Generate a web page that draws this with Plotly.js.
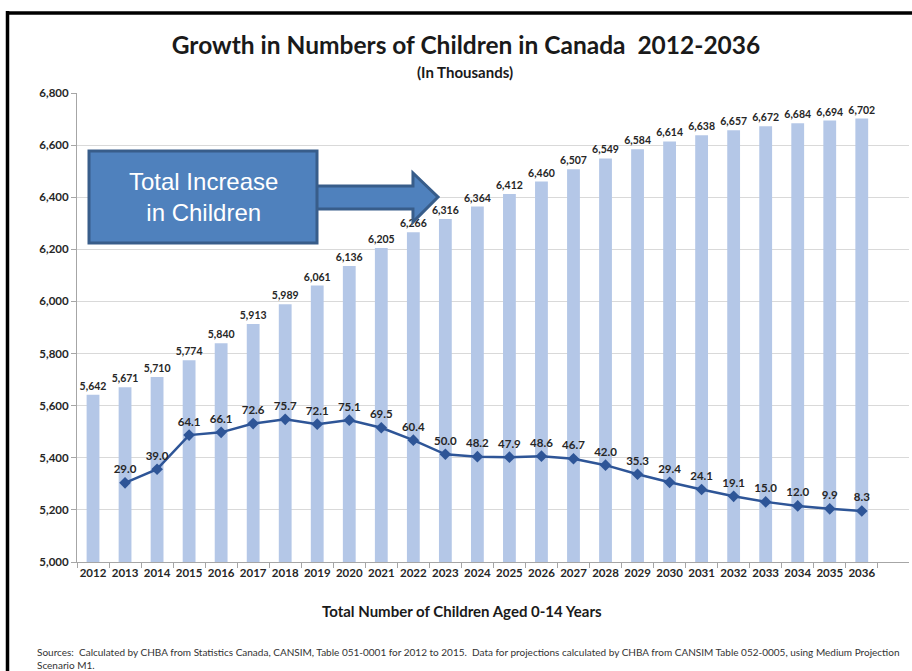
<!DOCTYPE html>
<html>
<head>
<meta charset="utf-8">
<script src="https://cdn.plot.ly/plotly-3.0.1.min.js"></script>
<style>html,body{margin:0;padding:0;background:#fff;}#chart{width:912px;height:671px;}</style>
</head>
<body>
<div id="chart"></div>
<script>
const years = ['2012','2013','2014','2015','2016','2017','2018','2019','2020','2021','2022','2023','2024','2025','2026','2027','2028','2029','2030','2031','2032','2033','2034','2035','2036'];
const totalChildren = [5642,5671,5710,5774,5840,5913,5989,6061,6136,6205,6266,6316,6364,6412,6460,6507,6549,6584,6614,6638,6657,6672,6684,6694,6702];
const increaseYears = ['2013','2014','2015','2016','2017','2018','2019','2020','2021','2022','2023','2024','2025','2026','2027','2028','2029','2030','2031','2032','2033','2034','2035','2036'];
const annualIncrease = [29.0,39.0,64.1,66.1,72.6,75.7,72.1,75.1,69.5,60.4,50.0,48.2,47.9,48.6,46.7,42.0,35.3,29.4,24.1,19.1,15.0,12.0,9.9,8.3];

const W = 912, H = 671;
const L = 77, R = 3, T = 93, B = 109;
const pw = W - L - R, ph = H - T - B;
const px = x => (x - L) / pw;
const py = y => (H - B - y) / ph;

const fontC = 'Lato, "Open Sans", sans-serif';

const barTrace = {
  type: 'bar', x: years, y: totalChildren,
  marker: {color: '#B4C7E7'},
  texttemplate: '%{y:,}', textposition: 'outside', cliponaxis: false, constraintext: 'none',
  textfont: {family: fontC, size: 10.5, color: '#262626', weight: 'bold'},
  hoverinfo: 'x+y', showlegend: false
};
const lineTrace = {
  type: 'scatter', mode: 'lines+markers+text', x: increaseYears, y: annualIncrease,
  yaxis: 'y2',
  line: {color: '#2E5597', width: 2.5},
  marker: {symbol: 'diamond', size: 9, color: '#2E5597'},
  text: annualIncrease.map(v => v.toFixed(1)), textposition: 'top center',
  textfont: {family: fontC, size: 11.5, color: '#262626', weight: 'bold'},
  cliponaxis: false, showlegend: false
};

const arrowPath = [
  [316, 186], [413, 186], [413, 173], [438, 197], [413, 222], [413, 209], [316, 209]
].map((p, i) => (i === 0 ? 'M' : 'L') + px(p[0]).toFixed(4) + ',' + py(p[1]).toFixed(4)).join(' ') + ' Z';

const layout = {
  width: W, height: H,
  margin: {l: L, r: R, t: T, b: B},
  paper_bgcolor: '#ffffff', plot_bgcolor: '#ffffff',
  bargap: 0.6,
  title: {
    text: '<b>Growth in Numbers of Children in Canada  2012-2036</b>',
    font: {family: fontC, size: 24.5, color: '#1a1a1a'},
    x: 466 / W, xanchor: 'center', y: 1 - 45/H, yanchor: 'middle'
  },
  xaxis: {
    type: 'category', showgrid: false, tickangle: 0,
    linecolor: '#A6A6A6', linewidth: 1, showline: true,
    ticks: 'outside', tickson: 'boundaries', ticklen: 5, tickcolor: '#A6A6A6',
    tickfont: {family: fontC, size: 11.5, color: '#262626', weight: 'bold'}
  },
  yaxis: {
    range: [5000, 6800], dtick: 200, tickformat: ',',
    gridcolor: '#D9D9D9', gridwidth: 1,
    showline: true, linecolor: '#A6A6A6', ticks: 'outside', ticklen: 5, tickcolor: '#A6A6A6',
    tickfont: {family: fontC, size: 11.5, color: '#262626', weight: 'bold'},
    zeroline: false
  },
  yaxis2: {overlaying: 'y', range: [-29.2, 315.6], visible: false, showgrid: false},
  shapes: [
    {type: 'line', xref: 'paper', yref: 'paper', x0: px(7), x1: px(912), y0: py(13), y1: py(13), line: {color: '#000', width: 3.5}},
    {type: 'line', xref: 'paper', yref: 'paper', x0: px(7.5), x1: px(7.5), y0: py(11), y1: py(671), line: {color: '#000', width: 3.5}},
    {type: 'path', xref: 'paper', yref: 'paper', path: arrowPath, fillcolor: '#4F81BD', line: {color: '#385D8A', width: 3}, layer: 'above'},
    {type: 'rect', xref: 'paper', yref: 'paper', x0: px(89), x1: px(317), y0: py(151), y1: py(243), fillcolor: '#4F81BD', line: {color: '#385D8A', width: 3}, layer: 'above'}
  ],
  annotations: [
    {xref: 'paper', yref: 'paper', x: px(465), y: py(72), text: '<b>(In Thousands)</b>', showarrow: false,
     font: {family: fontC, size: 15, color: '#1a1a1a'}, xanchor: 'center', yanchor: 'middle'},
    {xref: 'paper', yref: 'paper', x: px(462), y: py(611), text: '<b>Total Number of Children Aged 0-14 Years</b>', showarrow: false,
     font: {family: fontC, size: 15, color: '#1a1a1a'}, xanchor: 'center', yanchor: 'middle'},
    {xref: 'paper', yref: 'paper', x: px(203), y: py(197), text: 'Total Increase<br>in Children', showarrow: false,
     font: {family: '"Liberation Sans", Arial, sans-serif', size: 24, color: '#ffffff'}, xanchor: 'center', yanchor: 'middle'},
    {xref: 'paper', yref: 'paper', x: px(35), y: py(644), text: 'Sources:  Calculated by CHBA from Statistics Canada, CANSIM, Table 051-0001 for 2012 to 2015.  Data for projections calculated by CHBA from CANSIM Table 052-0005, using Medium Projection<br>Scenario M1.',
     showarrow: false, align: 'left', xanchor: 'left', yanchor: 'top',
     font: {family: fontC, size: 10, color: '#333333'}}
  ]
};

Plotly.newPlot('chart', [barTrace, lineTrace], layout, {displayModeBar: false, staticPlot: true});
</script>
</body>
</html>
